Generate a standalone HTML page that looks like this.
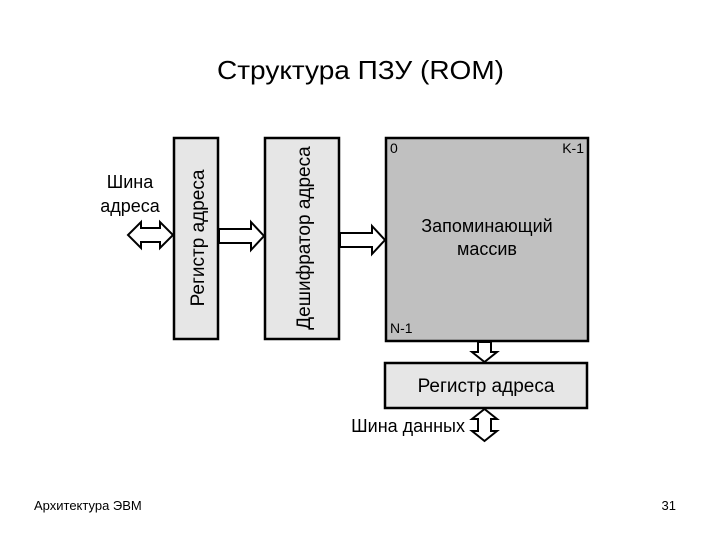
<!DOCTYPE html>
<html><head><meta charset="utf-8"><style>
html,body{margin:0;padding:0;background:#fff;width:720px;height:540px;overflow:hidden}
svg{display:block;font-family:"Liberation Sans",Arial,sans-serif}
</style></head><body>
<svg width="720" height="540" viewBox="0 0 720 540" xmlns="http://www.w3.org/2000/svg">
<text x="217" y="79" font-size="26" fill="#000" textLength="287" lengthAdjust="spacingAndGlyphs">Структура ПЗУ (ROM)</text>
<rect x="174" y="138" width="44" height="201" fill="#e6e6e6" stroke="#000" stroke-width="2.5"/>
<rect x="265" y="138" width="74" height="201" fill="#e6e6e6" stroke="#000" stroke-width="2.5"/>
<rect x="386" y="138" width="202" height="203" fill="#c0c0c0" stroke="#000" stroke-width="2.5"/>
<rect x="385" y="363" width="202" height="45" fill="#e6e6e6" stroke="#000" stroke-width="2.5"/>
<text transform="translate(204,238) rotate(-90)" font-size="19" text-anchor="middle" fill="#000">Регистр адреса</text>
<text transform="translate(310,238) rotate(-90)" font-size="19" text-anchor="middle" fill="#000">Дешифратор адреса</text>
<text x="390" y="153" font-size="14">0</text>
<text x="584" y="153" font-size="14" text-anchor="end">K-1</text>
<text x="390" y="333" font-size="14">N-1</text>
<text x="487" y="232" font-size="18" text-anchor="middle">Запоминающий</text>
<text x="487" y="255" font-size="18" text-anchor="middle">массив</text>
<text x="486" y="392" font-size="19" text-anchor="middle">Регистр адреса</text>
<text x="130" y="188" font-size="18" text-anchor="middle">Шина</text>
<text x="130" y="212" font-size="18" text-anchor="middle">адреса</text>
<text x="465" y="432" font-size="18" text-anchor="end">Шина данных</text>
<text x="34" y="510" font-size="13">Архитектура ЭВМ</text>
<text x="676" y="510" font-size="13" text-anchor="end">31</text>
<g fill="#fff" stroke="#000" stroke-width="2" stroke-linejoin="miter">
<polygon points="128,235 141,222 141,228 160,228 160,222 173,235 160,248 160,242 141,242 141,248"/>
<polygon points="219,229 251,229 251,222 264,236 251,250 251,243 219,243"/>
<polygon points="340,233 372,233 372,226 385,240 372,254 372,247 340,247"/>
<polygon points="478,342 491,342 491,352 497,352 484.5,362 472,352 478,352"/>
<polygon points="484.5,409 497,419 491,419 491,431 497,431 484.5,441 472,431 478,431 478,419 472,419"/>
</g>
</svg>
</body></html>
